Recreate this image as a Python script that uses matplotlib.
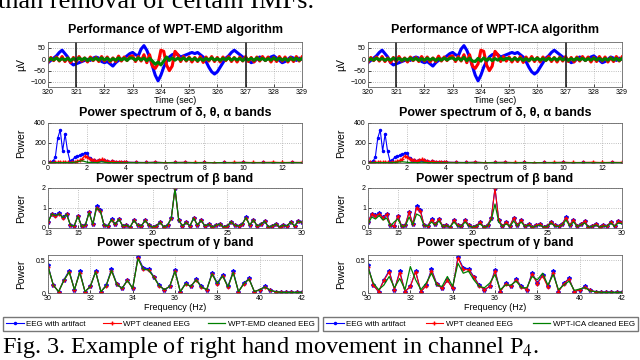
import numpy as np
import matplotlib
matplotlib.use("Agg")
import matplotlib.pyplot as plt
from matplotlib.lines import Line2D

plt.rcParams['font.family'] = ['Liberation Sans', 'DejaVu Sans']
plt.rcParams['mathtext.fontset'] = 'stix'

# ---- time domain (320-329 s, 0.1 s step) ----
time_start, time_end = 320, 329
eeg_artifact = [-15, -5, 5, 15, 30, 40, 25, 10, -15, -25,
                -20, -15, -10, -5, 0, -5, 5, 10, 5, -10,
                -15, -10, -20, -30, -15, -5, 0, 5, 15, 25,
                30, 20, 15, 45, 60, 40, 10, -30, -70, -95,
                -70, -35, -10, 10, 20, 25, 20, 10, 15, 20,
                25, 30, 25, 30, 20, 10, -10, -35, -55, -65,
                -55, -35, -15, 5, 15, 30, 40, 30, 20, 10,
                5, -5, -15, -10, 0, 10, 5, -5, 5, 10,
                15, 5, -5, -15, -10, 0, 10, 5, -5, 5,
                0]
wpt_clean = [-12, 8, -6, 10, -8, 12, -10, 6, -14, 8,
             -10, 12, -8, 6, -12, 10, -6, 8, -10, 12,
             -8, 10, -12, 6, -10, 14, -8, 10, -6, 12,
             15, -10, 12, -8, 20, -15, 20, -30, -40, -20,
             40, 35, -25, -50, -30, 35, 20, -10, 12, -8,
             10, -12, 8, -10, 12, -14, 10, -8, 12, -10,
             8, -12, 10, -6, 12, -10, 8, -12, 10, -8,
             12, -10, 8, -12, 10, -8, 12, -6, 10, -12,
             8, -10, 12, -8, 10, -12, 8, -10, 12, -8,
             10]
wpt_emd_clean = [-6, 4, -3, 6, -5, 3, -4, 5, -6, 3,
                 -4, 6, -3, 5, -6, 4, -3, 5, -4, 6,
                 -3, 5, -6, 3, -4, 6, -3, 4, -5, 6,
                 5, -4, 6, -3, 5, -6, 4, -8, -22, -12,
                 -25, -8, 10, -5, 6, -4, 5, -3, 6, -4,
                 5, -3, 4, -6, 3, -5, 4, -3, 6, -4,
                 3, -5, 4, -3, 6, -4, 5, -3, 4, -6,
                 5, -3, 4, -5, 6, -3, 4, -5, 3, -4,
                 6, -3, 5, -4, 3, -6, 4, -3, 5, -4,
                 3]
wpt_ica_clean = [-5, 3, -4, 5, -3, 4, -5, 3, -4, 5,
                 -3, 4, -5, 3, -4, 5, -3, 4, -5, 3,
                 -4, 5, -3, 4, -5, 3, -4, 5, -3, 4,
                 6, -3, 5, -4, 8, -6, 5, -8, -10, 4,
                 -8, 6, -5, 4, -6, 3, -4, 5, -3, 4,
                 3, -4, 5, -3, 4, -5, 3, -6, 4, -3,
                 5, -4, 3, -5, 4, -3, 5, -4, 6, -3,
                 4, -5, 3, -4, 5, -3, 4, -5, 3, -4,
                 5, -3, 4, -5, 3, -4, 5, -3, 4, -5,
                 3]

# ---- delta/theta/alpha band spectrum ----
delta_freq = list(np.arange(0, 4.01, 0.125)) + list(np.arange(4.5, 13.01, 0.5))
delta_artifact = [5, 10, 15, 60, 250, 330, 120, 290, 120, 20,
                  30, 60, 70, 75, 85, 100, 95, 50, 30, 25,
                  20, 25, 30, 25, 15, 12, 15, 10, 12, 8,
                  10, 8, 8,
                  6, 5, 7, 4, 5, 6, 4, 5, 3, 5, 4, 6, 3, 5, 4, 3, 5, 4]
delta_wpt = [3, 5, 4, 8, 6, 10, 5, 8, 6, 4,
             8, 10, 15, 25, 40, 70, 60, 40, 30, 25,
             20, 30, 35, 25, 15, 12, 15, 10, 12, 8,
             10, 8, 8,
             6, 5, 8, 4, 6, 7, 5, 6, 4, 5, 6, 7, 5, 6, 8, 5, 7, 6]
delta_emd = [2, 3, 2, 4, 3, 4, 3, 5, 4, 3,
             5, 8, 12, 18, 22, 15, 8, 6, 5, 4,
             4, 8, 12, 8, 5, 4, 4, 3, 4, 3,
             3, 2, 3,
             3, 2, 3, 2, 3, 2, 3, 2, 2, 3, 2, 3, 2, 2, 3, 2, 3, 2]
delta_ica = [2, 2, 3, 3, 4, 3, 4, 3, 3, 4,
             4, 6, 8, 10, 12, 10, 7, 5, 4, 4,
             3, 6, 8, 6, 4, 3, 4, 3, 3, 3,
             2, 3, 2,
             2, 3, 2, 2, 3, 2, 2, 3, 2, 2, 3, 2, 2, 3, 2, 2, 3, 2]

# ---- beta band spectrum (13-30 Hz, 0.25 Hz step) ----
beta_freq = np.arange(13, 30.01, 0.25)
beta_artifact = [0.30, 0.72, 0.65, 0.74, 0.55, 0.72, 0.15, 0.10, 0.62, 0.10,
                 0.15, 0.82, 0.20, 1.12, 0.92, 0.15, 0.10, 0.45, 0.20, 0.45,
                 0.10, 0.15, 0.05, 0.40, 0.15, 0.10, 0.40, 0.15, 0.05, 0.12,
                 0.30, 0.05, 0.15, 0.50, 2.00, 0.40, 0.10, 0.30, 0.10, 0.52,
                 0.15, 0.40, 0.10, 0.20, 0.05, 0.15, 0.22, 0.05, 0.10, 0.32,
                 0.15, 0.10, 0.20, 0.55, 0.15, 0.42, 0.10, 0.20, 0.35, 0.05,
                 0.10, 0.22, 0.05, 0.15, 0.10, 0.32, 0.10, 0.35, 0.30]
beta_wpt = [0.28, 0.70, 0.62, 0.70, 0.52, 0.68, 0.14, 0.10, 0.60, 0.08,
            0.14, 0.78, 0.18, 1.02, 0.86, 0.14, 0.10, 0.42, 0.18, 0.44,
            0.10, 0.14, 0.05, 0.38, 0.14, 0.10, 0.38, 0.14, 0.05, 0.10,
            0.28, 0.05, 0.14, 0.48, 1.98, 0.38, 0.10, 0.28, 0.10, 0.50,
            0.14, 0.38, 0.10, 0.18, 0.05, 0.14, 0.20, 0.05, 0.10, 0.30,
            0.14, 0.10, 0.18, 0.52, 0.14, 0.40, 0.10, 0.18, 0.34, 0.05,
            0.10, 0.20, 0.05, 0.14, 0.10, 0.30, 0.10, 0.34, 0.28]
beta_emd = [0.28, 0.70, 0.62, 0.70, 0.52, 0.68, 0.14, 0.10, 0.58, 0.08,
            0.14, 0.76, 0.18, 1.00, 0.86, 0.14, 0.10, 0.42, 0.18, 0.44,
            0.10, 0.14, 0.05, 0.38, 0.14, 0.10, 0.38, 0.14, 0.05, 0.10,
            0.28, 0.05, 0.14, 0.48, 1.95, 0.38, 0.10, 0.28, 0.10, 0.50,
            0.14, 0.38, 0.10, 0.18, 0.05, 0.14, 0.20, 0.05, 0.10, 0.30,
            0.14, 0.10, 0.18, 0.52, 0.14, 0.40, 0.10, 0.18, 0.34, 0.05,
            0.10, 0.20, 0.05, 0.14, 0.10, 0.30, 0.10, 0.34, 0.28]
beta_ica = [0.20, 0.55, 0.45, 0.62, 0.40, 0.50, 0.10, 0.30, 0.45, 0.08,
            0.10, 0.55, 0.15, 0.70, 0.60, 0.12, 0.10, 0.30, 0.15, 0.35,
            0.08, 0.12, 0.05, 0.30, 0.10, 0.08, 0.30, 0.10, 0.05, 0.10,
            0.20, 0.05, 0.10, 0.40, 1.20, 0.30, 0.08, 0.20, 0.08, 0.35,
            0.10, 0.30, 0.08, 0.15, 0.05, 0.10, 0.15, 0.05, 0.08, 0.25,
            0.10, 0.08, 0.15, 0.40, 0.10, 0.30, 0.08, 0.15, 0.25, 0.05,
            0.08, 0.15, 0.05, 0.10, 0.08, 0.25, 0.08, 0.25, 0.22]

# ---- gamma band spectrum (30-42 Hz, 0.25 Hz step) ----
gamma_freq = np.arange(30, 42.01, 0.25)
gamma_artifact = [0.42, 0.12, 0.02, 0.20, 0.34, 0.05, 0.33, 0.02, 0.10, 0.33,
                  0.02, 0.12, 0.36, 0.14, 0.07, 0.20, 0.07, 0.55, 0.38, 0.37,
                  0.25, 0.12, 0.05, 0.10, 0.35, 0.02, 0.15, 0.10, 0.21, 0.10,
                  0.05, 0.31, 0.15, 0.28, 0.10, 0.33, 0.02, 0.15, 0.22, 0.02,
                  0.05, 0.10, 0.04, 0.02, 0.01, 0.01, 0.01, 0.01, 0.01]
gamma_wpt = [0.40, 0.12, 0.02, 0.19, 0.32, 0.05, 0.31, 0.02, 0.10, 0.32,
             0.02, 0.11, 0.34, 0.13, 0.07, 0.19, 0.07, 0.53, 0.36, 0.35,
             0.24, 0.11, 0.05, 0.10, 0.33, 0.02, 0.14, 0.10, 0.20, 0.09,
             0.05, 0.29, 0.14, 0.26, 0.09, 0.31, 0.02, 0.14, 0.21, 0.02,
             0.05, 0.09, 0.04, 0.02, 0.01, 0.01, 0.01, 0.01, 0.01]
gamma_emd = [0.40, 0.12, 0.02, 0.19, 0.32, 0.05, 0.31, 0.02, 0.10, 0.32,
             0.02, 0.11, 0.34, 0.13, 0.07, 0.19, 0.07, 0.52, 0.36, 0.35,
             0.24, 0.11, 0.05, 0.10, 0.33, 0.02, 0.14, 0.10, 0.20, 0.09,
             0.05, 0.29, 0.14, 0.26, 0.09, 0.31, 0.02, 0.14, 0.21, 0.02,
             0.05, 0.09, 0.04, 0.02, 0.01, 0.01, 0.01, 0.01, 0.01]
gamma_ica = [0.38, 0.15, 0.05, 0.12, 0.25, 0.08, 0.22, 0.05, 0.40, 0.20,
             0.05, 0.15, 0.30, 0.12, 0.10, 0.25, 0.10, 0.45, 0.30, 0.33,
             0.20, 0.10, 0.08, 0.15, 0.28, 0.05, 0.12, 0.12, 0.18, 0.08,
             0.08, 0.25, 0.20, 0.30, 0.12, 0.28, 0.05, 0.12, 0.18, 0.04,
             0.06, 0.08, 0.03, 0.02, 0.01, 0.01, 0.01, 0.01, 0.01]

artifact_marks = [321, 327]

BLUE, RED, GREEN = '#0000ff', '#ff0000', '#008000'

fig = plt.figure(figsize=(6.4, 3.6), dpi=100)


def rect(x, top, w, bottom):
    return [x / 640, 1 - bottom / 360, w / 640, (bottom - top) / 360]


def style(ax):
    ax.tick_params(direction='in', length=2, labelsize=5, pad=1.5, width=0.5)
    for s in ax.spines.values():
        s.set_color('#666666')
        s.set_linewidth(0.6)
    ax.grid(True, ls=':', color='#aaaaaa', lw=0.6)
    ax.set_axisbelow(True)


def fig_title(xc, yc, txt):
    fig.text(xc / 640, 1 - yc / 360, txt, ha='center', va='center',
             fontsize=9, fontweight='bold')


columns = [
    (48, 'WPT-EMD', wpt_emd_clean, delta_emd, beta_emd, gamma_emd),
    (368, 'WPT-ICA', wpt_ica_clean, delta_ica, beta_ica, gamma_ica),
]

t = np.linspace(time_start, time_end, len(eeg_artifact))

for x0, name, g_time, g_delta, g_beta, g_gamma in columns:
    xc = x0 + 127
    # time domain
    ax = fig.add_axes(rect(x0, 42, 254, 87))
    style(ax)
    ax.plot(t, eeg_artifact, color=BLUE, lw=2.2)
    ax.plot(t, wpt_clean, color=RED, lw=2.2)
    ax.plot(t, g_time, color=GREEN, lw=2.2)
    for m in artifact_marks:
        ax.axvline(m, color='#222222', lw=1.2)
    ax.set_xlim(time_start, time_end)
    ax.set_ylim(-122, 76)
    ax.set_xticks(range(320, 330))
    ax.set_yticks([50, 0, -50, -100])
    ax.set_ylabel('µV', fontsize=7.5)
    ax.yaxis.set_label_coords(-0.085, 0.5)
    ax.set_xlabel('Time (sec)', fontsize=6.5, labelpad=0)
    ax.xaxis.set_label_coords(0.5, -0.2)
    fig_title(xc, 30, 'Performance of %s algorithm' % name)

    # delta, theta, alpha
    ax = fig.add_axes(rect(x0, 123, 254, 163))
    style(ax)
    ax.plot(delta_freq, delta_artifact, color=BLUE, lw=0.8, marker='.', ms=3)
    ax.plot(delta_freq, delta_wpt, color=RED, lw=0.8, marker='+', ms=3)
    ax.plot(delta_freq, g_delta, color=GREEN, lw=0.9)
    ax.set_xlim(0, 13)
    ax.set_ylim(0, 400)
    ax.set_xticks(range(0, 13, 2))
    ax.set_yticks([0, 200, 400])
    ax.set_ylabel('Power', fontsize=7.5)
    ax.yaxis.set_label_coords(-0.085, 0.5)
    fig_title(xc, 113, 'Power spectrum of δ, θ, α bands')

    # beta
    ax = fig.add_axes(rect(x0, 188, 254, 228))
    style(ax)
    ax.plot(beta_freq, beta_artifact, color=BLUE, lw=0.8, marker='*', ms=3)
    ax.plot(beta_freq, beta_wpt, color=RED, lw=0.8, marker='+', ms=3)
    ax.plot(beta_freq, g_beta, color=GREEN, lw=0.9)
    ax.set_xlim(13, 30)
    ax.set_ylim(0, 2)
    ax.set_xticks([13, 15, 20, 25, 30])
    ax.set_yticks([0, 1, 2])
    ax.set_ylabel('Power', fontsize=7.5)
    ax.yaxis.set_label_coords(-0.085, 0.5)
    fig_title(xc, 179, 'Power spectrum of β band')

    # gamma
    ax = fig.add_axes(rect(x0, 255, 254, 293))
    style(ax)
    ax.plot(gamma_freq, gamma_artifact, color=BLUE, lw=0.8, marker='*', ms=3)
    ax.plot(gamma_freq, gamma_wpt, color=RED, lw=0.8, marker='+', ms=3)
    ax.plot(gamma_freq, g_gamma, color=GREEN, lw=0.9)
    ax.set_xlim(30, 42)
    ax.set_ylim(0, 0.576)
    ax.set_xticks(range(30, 43, 2))
    ax.set_yticks([0, 0.5])
    ax.set_yticklabels(['0', '0.5'])
    ax.set_ylabel('Power', fontsize=7.5)
    ax.yaxis.set_label_coords(-0.085, 0.5)
    ax.set_xlabel('Frequency (Hz)', fontsize=6.5, labelpad=0)
    ax.xaxis.set_label_coords(0.5, -0.26)
    fig_title(xc, 243, 'Power spectrum of γ band')

    handles = [Line2D([], [], color=BLUE, lw=0.8, marker='.', ms=3),
               Line2D([], [], color=RED, lw=0.8, marker='+', ms=3),
               Line2D([], [], color=GREEN, lw=0.9)]
    labels = ['EEG with artifact', 'WPT cleaned EEG', '%s cleaned EEG' % name]
    lx = x0 - 45
    fig.legend(handles, labels, loc='lower left', mode='expand', ncol=3,
               bbox_to_anchor=(lx / 640, 1 - 331 / 360, 315 / 640, 18 / 360),
               fontsize=5.8, handlelength=2.2, handletextpad=0.3,
               columnspacing=0.6, borderaxespad=0, borderpad=0.4,
               fancybox=False, edgecolor='#777777', framealpha=1)

serif = ['Liberation Serif', 'DejaVu Serif']
fig.text(-2 / 640, 1 - 8 / 360, 'than removal of certain IMFs.', fontsize=19,
         family=serif, va='baseline')
fig.text(2 / 640, 1 - 353 / 360, 'Fig. 3. Example of right hand movement in channel P$_{4}$.',
         fontsize=17.5, family=serif, va='baseline')

fig.savefig('out.png', dpi=100)
